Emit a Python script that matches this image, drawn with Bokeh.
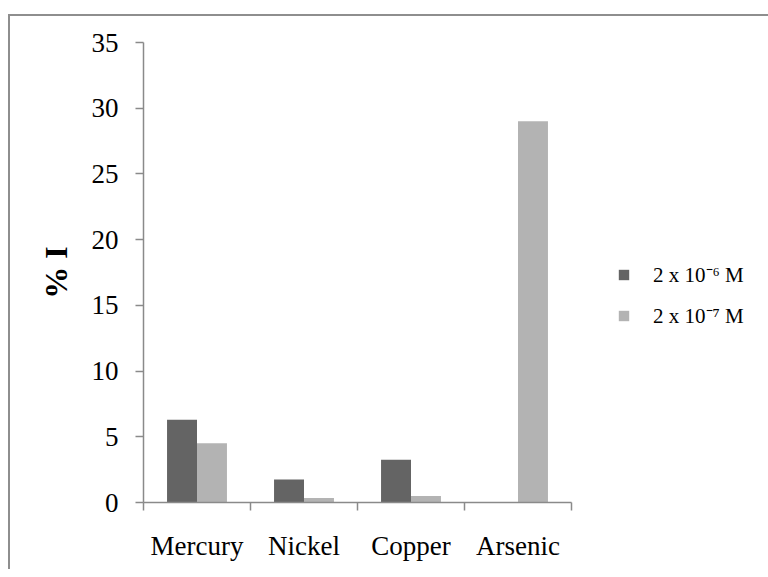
from bokeh.plotting import figure
from bokeh.models import (Range1d, LinearAxis, FixedTicker,
                          Legend, LegendItem, ColumnDataSource)
from bokeh.transform import dodge
from bokeh.embed import file_html
from bokeh.resources import INLINE

metals = ["Mercury", "Nickel", "Copper", "Arsenic"]
inhib_2e6 = [6.3, 1.75, 3.25, 0.0]
inhib_2e7 = [4.5, 0.35, 0.5, 29.0]
series_labels = ["2 x 10\u207b\u2076 M", "2 x 10\u207b\u2077 M"]
y_ticks = [0, 5, 10, 15, 20, 25, 30, 35]
y_label = "% I"

DARK = "#646464"
LIGHT = "#b3b3b3"
AXIS = "#8a8a8a"
FONT = "Liberation Serif"

n = len(metals)
centers = [i + 0.5 for i in range(n)]
boundaries = list(range(n + 1))

p = figure(x_range=Range1d(0, n), y_range=Range1d(0, 35),
           frame_width=428, frame_height=460,
           min_border_left=143, min_border_right=189, min_border_top=42, min_border_bottom=67,
           x_axis_type=None, y_axis_type=None,
           output_backend="svg", toolbar_location=None)
p.xgrid.visible = False
p.ygrid.visible = False
p.outline_line_color = None
p.background_fill_color = "white"
p.border_fill_color = None
p.styles = {
    "background-color": "white",
    "background-image": "linear-gradient(#8e8e8e, #8e8e8e), linear-gradient(#8e8e8e, #8e8e8e)",
    "background-size": "2px calc(100% - 14px), calc(100% - 8px) 2px",
    "background-position": "8px 14px, 8px 14px",
    "background-repeat": "no-repeat",
}

src = ColumnDataSource(dict(pos=centers, a=inhib_2e6, b=inhib_2e7))
r1 = p.vbar(x=dodge("pos", -0.14), top="a", width=0.28, source=src,
            fill_color=DARK, line_color=None)
r2 = p.vbar(x=dodge("pos", 0.14), top="b", width=0.28, source=src,
            fill_color=LIGHT, line_color=None)

yaxis = LinearAxis(ticker=FixedTicker(ticks=y_ticks), axis_label=y_label)
yaxis.axis_line_color = AXIS
yaxis.axis_line_width = 1.5
yaxis.major_tick_line_color = AXIS
yaxis.major_tick_line_width = 1.5
yaxis.major_tick_out = 8
yaxis.major_tick_in = 0
yaxis.minor_tick_line_color = None
yaxis.major_label_text_font = FONT
yaxis.major_label_text_font_size = "27px"
yaxis.major_label_text_color = "black"
yaxis.major_label_standoff = 17
yaxis.axis_label_text_font = FONT
yaxis.axis_label_text_font_size = "32px"
yaxis.axis_label_text_font_style = "bold"
yaxis.axis_label_text_color = "black"
yaxis.axis_label_standoff = 15
p.add_layout(yaxis, "left")

tickaxis = LinearAxis(ticker=FixedTicker(ticks=boundaries))
tickaxis.axis_line_color = AXIS
tickaxis.axis_line_width = 1.5
tickaxis.major_tick_line_color = AXIS
tickaxis.major_tick_line_width = 1.5
tickaxis.major_tick_out = 8
tickaxis.major_tick_in = 0
tickaxis.minor_tick_line_color = None
tickaxis.major_label_text_font_size = "0px"
tickaxis.major_label_text_color = None
tickaxis.major_label_standoff = 0
p.add_layout(tickaxis, "below")

xaxis = LinearAxis(ticker=FixedTicker(ticks=centers),
                   major_label_overrides={c: m for c, m in zip(centers, metals)})
xaxis.axis_line_color = None
xaxis.major_tick_line_color = None
xaxis.minor_tick_line_color = None
xaxis.major_label_text_font = FONT
xaxis.major_label_text_font_size = "27px"
xaxis.major_label_text_color = "black"
xaxis.major_label_standoff = 14
p.add_layout(xaxis, "below")

legend = Legend(items=[LegendItem(label=series_labels[0], renderers=[r1]),
                       LegendItem(label=series_labels[1], renderers=[r2])],
                location=(46, 173))
legend.glyph_width = 13
legend.glyph_height = 13
legend.label_standoff = 23
legend.label_height = 20
legend.spacing = 13
legend.padding = 0
legend.margin = 0
legend.border_line_color = None
legend.background_fill_alpha = 0
legend.label_text_font = FONT
legend.label_text_font_size = "21px"
legend.label_text_color = "black"
p.add_layout(legend, "right")

open("out.html", "w").write(file_html(p, INLINE))
